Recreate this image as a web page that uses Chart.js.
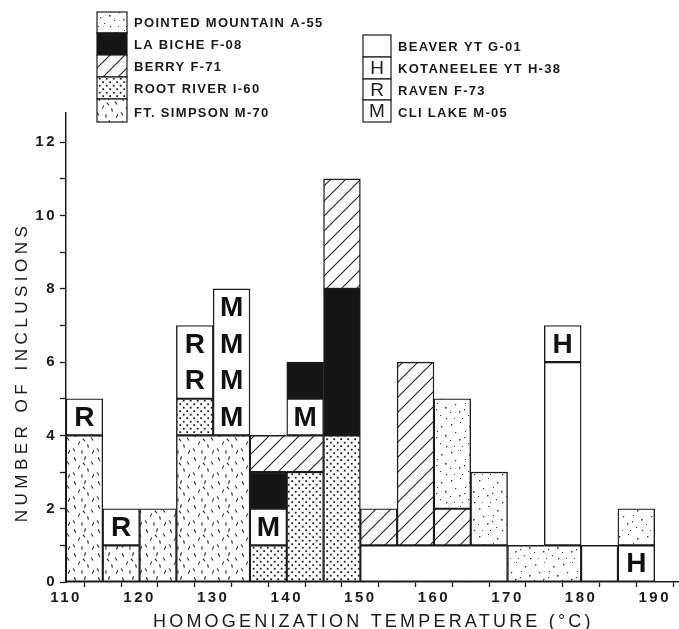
<!DOCTYPE html>
<html><head><meta charset="utf-8">
<script src="https://cdn.jsdelivr.net/npm/chart.js@4.4.1/dist/chart.umd.min.js"></script>
<style>html,body{margin:0;padding:0;background:#fff}#wrap{width:679px;height:629px;position:relative}</style>
</head><body><div id="wrap"><canvas id="c"></canvas></div>
<script>
// ---- data: each segment is [bin start (°C), lower count, upper count] ----
const binWidth = 5;
const xTickLabels = [110, 120, 130, 140, 150, 160, 170, 180, 190];
const yTickLabels = [0, 2, 4, 6, 8, 10, 12];
const pointedMountain = [[160, 2, 5], [165, 1, 3], [170, 0, 1], [175, 0, 1], [185, 1, 2]];
const laBiche = [[135, 2, 3], [140, 5, 6], [145, 4, 8]];
const berry = [[135, 3, 4], [140, 3, 4], [145, 8, 11], [150, 1, 2], [155, 1, 6], [160, 1, 2]];
const rootRiver = [[125, 4, 5], [135, 0, 1], [140, 0, 3], [145, 0, 4]];
const ftSimpson = [[110, 0, 4], [115, 0, 1], [120, 0, 2], [125, 0, 4], [130, 0, 4]];
const beaver = [[150, 0, 1], [155, 0, 1], [160, 0, 1], [165, 0, 1], [175, 1, 6], [180, 0, 1]];
const kotaneelee = [[175, 6, 7], [185, 0, 1]];
const raven = [[110, 4, 5], [115, 1, 2], [125, 5, 7]];
const cliLake = [[130, 4, 8], [135, 1, 2], [140, 4, 5]];
const seriesLabels = ['POINTED MOUNTAIN A-55', 'LA BICHE F-08', 'BERRY F-71', 'ROOT RIVER I-60', 'FT. SIMPSON M-70',
  'BEAVER YT G-01', 'KOTANEELEE YT H-38', 'RAVEN F-73', 'CLI LAKE M-05'];
const seriesLetters = ['', '', '', '', '', '', 'H', 'R', 'M'];

// ---- styling ----
const INK = '#1b1b1b';
const BW = 1.4;
const FONT = '"Liberation Sans", Arial, Helvetica, sans-serif';
const mainCtx = document.getElementById('c').getContext('2d');

function makePattern(w, h, draw) {
  const c = document.createElement('canvas');
  c.width = w; c.height = h;
  const g = c.getContext('2d');
  g.fillStyle = '#fff'; g.fillRect(0, 0, w, h);
  draw(g, w, h);
  return mainCtx.createPattern(c, 'repeat');
}
const patDashes = makePattern(24, 24, (g, w, h) => {
  const d = [[3,3,20],[13,2,-15],[20,7,30],[7,11,-25],[16,14,10],[2,18,35],[10,20,0],[21,20,-20],[12,8,40]];
  g.strokeStyle = '#2a2a2a'; g.lineWidth = 1.1;
  for (const [x, y, a] of d) for (const ox of [-w, 0, w]) for (const oy of [-h, 0, h]) {
    const r = a * Math.PI / 180, L = 1.8;
    g.beginPath();
    g.moveTo(x + ox - Math.sin(r) * L, y + oy - Math.cos(r) * L);
    g.lineTo(x + ox + Math.sin(r) * L, y + oy + Math.cos(r) * L);
    g.stroke();
  }
});
const patDots = makePattern(7, 7, (g) => {
  g.fillStyle = '#1e1e1e';
  g.fillRect(0.8, 0.8, 1.8, 1.8);
  g.fillRect(4.3, 4.3, 1.8, 1.8);
});
const patSpeckle = makePattern(28, 28, (g) => {
  const d = [[3,4,1.4],[12,2,1],[21,6,1.5],[7,12,1.2],[17,11,1],[25,15,1.6],[2,20,1],[11,19,1.5],[20,23,1.1],[14,26,1],[26,26,1.3],[6,26,0.9],[16,17,1.2]];
  g.fillStyle = '#3a3a3a';
  for (const [x, y, s] of d) g.fillRect(x, y, s, s);
});
const patHatch = makePattern(15, 15, (g) => {
  g.strokeStyle = '#222'; g.lineWidth = 1.1;
  g.beginPath();
  g.moveTo(-1, 16); g.lineTo(16, -1);
  g.moveTo(-1, 1); g.lineTo(1, -1);
  g.moveTo(14, 16); g.lineTo(16, 14);
  g.stroke();
});
const seriesFills = [patSpeckle, '#161616', patHatch, patDots, patDashes, '#ffffff', '#ffffff', '#ffffff', '#ffffff'];
const seriesSegs = [pointedMountain, laBiche, berry, rootRiver, ftSimpson, beaver, kotaneelee, raven, cliLake];

// legend layout (pixel positions)
const legendLayout = [
  {x: 97, y: 12, w: 30, h: 21, ty: 23}, {x: 97, y: 33, w: 30, h: 22, ty: 45}, {x: 97, y: 55, w: 30, h: 22, ty: 67},
  {x: 97, y: 77, w: 30, h: 22, ty: 89}, {x: 97, y: 99, w: 30, h: 23, ty: 113},
  {x: 363, y: 35, w: 28, h: 22, ty: 47}, {x: 363, y: 57, w: 28, h: 22, ty: 69}, {x: 363, y: 79, w: 28, h: 21, ty: 91},
  {x: 363, y: 100, w: 28, h: 22, ty: 113}
];

function hasSeg(segs, start, lo, hi) { return segs.some(s => s[0] === start && s[1] === lo && s[2] === hi); }

const datasets = seriesLabels.map((label, i) => {
  const segs = seriesSegs[i];
  return {
    label,
    letter: seriesLetters[i],
    data: segs.map(([start, lo, hi]) => ({x: start + binWidth / 2, y: [lo, hi]})),
    backgroundColor: seriesFills[i],
    borderColor: INK,
    borderSkipped: false,
    borderWidth: (ctx) => {
      const seg = segs[ctx.dataIndex];
      if (!seg) return BW;
      return {
        top: BW, bottom: BW,
        left: hasSeg(segs, seg[0] - binWidth, seg[1], seg[2]) ? 0 : BW,
        right: hasSeg(segs, seg[0] + binWidth, seg[1], seg[2]) ? 0 : BW
      };
    },
    grouped: false,
    barPercentage: 1,
    categoryPercentage: 1
  };
});

const letterPlugin = {
  id: 'letters',
  beforeDraw(chart) { chart.ctx.letterSpacing = '2.5px'; },
  beforeDatasetsDraw(chart) { chart.ctx.letterSpacing = '0px'; },
  afterDatasetsDraw(chart) {
    const ctx = chart.ctx, ys = chart.scales.y;
    ctx.save();
    ctx.font = 'bold 28px ' + FONT;
    ctx.fillStyle = '#111';
    ctx.textAlign = 'center'; ctx.textBaseline = 'middle';
    chart.data.datasets.forEach((ds, di) => {
      if (!ds.letter) return;
      const meta = chart.getDatasetMeta(di);
      meta.data.forEach((el, i) => {
        const [lo, hi] = ds.data[i].y;
        for (let v = lo; v < hi; v++) ctx.fillText(ds.letter, el.x, ys.getPixelForValue(v + 0.5) + 1);
      });
    });
    ctx.restore();
  },
  afterDraw(chart) {
    const ctx = chart.ctx;
    ctx.save();
    // legend
    chart.data.datasets.forEach((ds, i) => {
      const L = legendLayout[i];
      ctx.fillStyle = ds.backgroundColor;
      ctx.fillRect(L.x, L.y, L.w, L.h);
      ctx.strokeStyle = INK; ctx.lineWidth = 1.2;
      ctx.strokeRect(L.x, L.y, L.w, L.h);
      if (ds.letter) {
        ctx.font = '19px ' + FONT; ctx.fillStyle = '#222';
        ctx.textAlign = 'center'; ctx.textBaseline = 'middle'; ctx.letterSpacing = '0px';
        ctx.fillText(ds.letter, L.x + L.w / 2, L.y + L.h / 2 + 1);
      }
      ctx.font = 'bold 13px ' + FONT; ctx.fillStyle = '#1a1a1a';
      ctx.textAlign = 'left'; ctx.textBaseline = 'middle'; ctx.letterSpacing = '1.3px';
      ctx.fillText(ds.label, L.x + L.w + 7, L.ty);
    });
    // axis titles
    ctx.fillStyle = '#1a1a1a';
    ctx.font = '18px ' + FONT; ctx.letterSpacing = '3.2px';
    ctx.textAlign = 'left'; ctx.textBaseline = 'middle';
    ctx.fillText('HOMOGENIZATION TEMPERATURE (°C)', 153, 622);
    ctx.translate(22, 372); ctx.rotate(-Math.PI / 2);
    ctx.font = '17px ' + FONT; ctx.letterSpacing = '4.5px';
    ctx.textAlign = 'center';
    ctx.fillText('NUMBER OF INCLUSIONS', 0, 0);
    ctx.restore();
    ctx.letterSpacing = '0px';
  }
};

new Chart(document.getElementById('c'), {
  type: 'bar',
  data: {datasets},
  options: {
    responsive: true, maintainAspectRatio: false, animation: false,
    layout: {padding: {top: 113, right: 0, bottom: 0, left: 0}},
    plugins: {legend: {display: false}, tooltip: {enabled: false}},
    scales: {
      x: {
        type: 'linear', min: 110, max: 193.3, offset: false,
        afterFit: (s) => { s.height = 47; },
        ticks: {stepSize: 5, includeBounds: false, autoSkip: false, maxRotation: 0, padding: 2,
          color: '#1a1a1a', font: {family: FONT, size: 15, weight: 'bold'},
          callback: (v) => xTickLabels.includes(v) ? String(v) : ''},
        grid: {drawOnChartArea: false, drawTicks: true, tickLength: 5, tickColor: INK, tickWidth: 1.3},
        border: {display: true, color: INK, width: 1.5}
      },
      y: {
        type: 'linear', min: 0, max: 12.8, stacked: false,
        afterFit: (s) => { s.width = 66; },
        ticks: {stepSize: 1, includeBounds: false, autoSkip: false, padding: 3,
          color: '#1a1a1a', font: {family: FONT, size: 15, weight: 'bold'},
          callback: (v) => yTickLabels.includes(v) ? String(v) : ''},
        grid: {drawOnChartArea: false, drawTicks: true, tickLength: 6, tickColor: INK, tickWidth: 1.3},
        border: {display: true, color: INK, width: 1.5}
      }
    }
  },
  plugins: [letterPlugin]
});
</script>
</body></html>
